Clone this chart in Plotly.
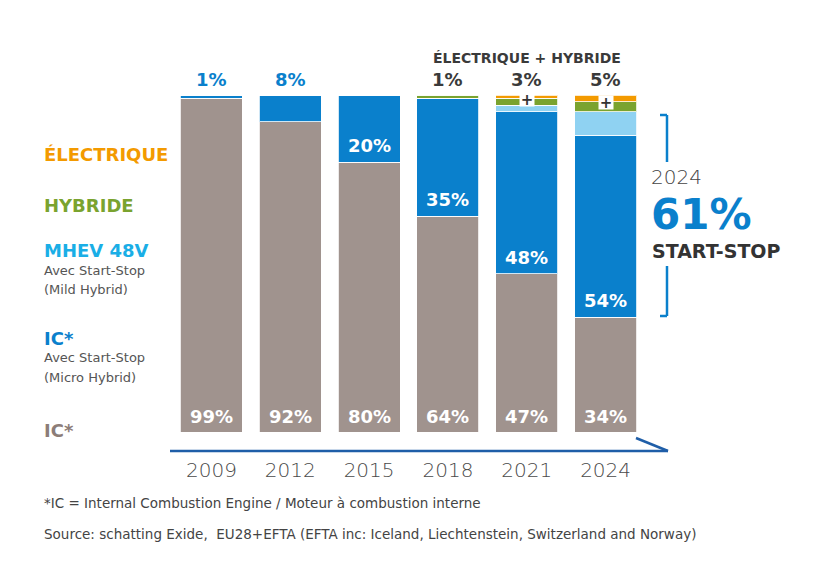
import plotly.graph_objects as go

years = ["2009", "2012", "2015", "2018", "2021", "2024"]
ic = [99, 92, 80, 64, 47, 34]
ic_start_stop = [1, 8, 20, 35, 48, 54]
mhev = [0, 0, 0, 0, 2, 7]
hybride = [0, 0, 0, 1, 2, 3]
electrique = [0, 0, 0, 0, 1, 2]
elec_hyb_labels = ["", "", "", "1%", "3%", "5%"]

xpos = list(range(len(years)))

W_FIG, H_FIG = 821, 571
L, R_EDGE, T, B = 172, 645, 95, 432
PW, PH = R_EDGE - L, B - T

def px(x):
    return (x - L) / PW

def py(y):
    return (B - y) / PH

F_BOLD = "DejaVu Sans"
C_IC = "#a0938e"
C_BLUE = "#0a80cc"
C_MHEV = "#8fd2f2"
C_HYB = "#7aa32f"
C_ELEC = "#f39a00"

fig = go.Figure()
series = [
    ("IC*", ic, C_IC),
    ("IC* Start-Stop", ic_start_stop, C_BLUE),
    ("MHEV 48V", mhev, C_MHEV),
    ("HYBRIDE", hybride, C_HYB),
    ("ÉLECTRIQUE", electrique, C_ELEC),
]
for name, vals, col in series:
    fig.add_trace(go.Bar(
        x=xpos, y=vals, name=name,
        marker=dict(color=col, line=dict(color="rgba(255,255,255,0.8)", width=1)),
        hoverinfo="skip",
    ))

ann = []
def pct(i, y, text, color, shift):
    ann.append(dict(x=i, y=y, xref="x", yref="y", text=f"<b>{text}</b>", showarrow=False,
                    yanchor="bottom", yshift=shift,
                    font=dict(family=F_BOLD, size=18, color=color)))

for i, v in enumerate(ic):
    pct(i, 0, f"{v}%", "white", 3)
for i, (base, v) in enumerate(zip(ic, ic_start_stop)):
    if i < 2:
        pct(i, 100, f"{v}%", C_BLUE, 3)
    else:
        pct(i, base, f"{v}%", "white", 4)
for i, lab in enumerate(elec_hyb_labels):
    if lab:
        pct(i, 100, lab, "#3a3a3a", 3)
for i in range(len(years)):
    if electrique[i] > 0:
        yb = ic[i] + ic_start_stop[i] + mhev[i] + hybride[i]
        ann.append(dict(x=i, y=yb, xref="x", yref="y", text="<b>+</b>", showarrow=False,
                        bgcolor="white", borderpad=0, yshift=-1, width=14, height=13,
                        font=dict(family=F_BOLD, size=15, color="#333")))
ann.append(dict(x=px(527), y=py(58), xref="paper", yref="paper", text="<b>ÉLECTRIQUE + HYBRIDE</b>",
                showarrow=False, xanchor="center", yanchor="middle",
                font=dict(family=F_BOLD, size=14, color="#3a3a3a")))

def lt(x, y, text, size, color, family=F_BOLD, weight=None):
    f = dict(family=family, size=size, color=color)
    if weight:
        f["weight"] = weight
    ann.append(dict(x=px(x), y=py(y), xref="paper", yref="paper", text=text, showarrow=False,
                    xanchor="left", yanchor="middle", font=f))

lt(42, 154, "<b>ÉLECTRIQUE</b>", 18, C_ELEC)
lt(42, 205, "<b>HYBRIDE</b>", 18, C_HYB)
lt(42, 250, "<b>MHEV 48V</b>", 18, "#1aaee6")
lt(42, 270, "Avec Start-Stop", 13, "#555")
lt(42, 289, "(Mild Hybrid)", 13, "#555")
lt(42, 338, "<b>IC*</b>", 18, C_BLUE)
lt(42, 357, "Avec Start-Stop", 13, "#555")
lt(42, 377, "(Micro Hybrid)", 13, "#555")
lt(42, 430, "<b>IC*</b>", 18, "#8c7d78")

lt(649, 177, "2024", 20, "#444", weight=200)
lt(649, 214, "<b>61%</b>", 42, C_BLUE)
lt(650, 251, "<b>START-STOP</b>", 19, "#333")

lt(42, 503, "*IC = Internal Combustion Engine / Moteur à combustion interne", 13.5, "#444")
lt(42, 534, "Source: schatting Exide,  EU28+EFTA (EFTA inc: Iceland, Liechtenstein, Switzerland and Norway)", 13.5, "#444")

shapes = []
def line(x0, y0, x1, y1, color, width):
    shapes.append(dict(type="line", xref="paper", yref="paper", x0=px(x0), y0=py(y0), x1=px(x1), y1=py(y1),
                       line=dict(color=color, width=width)))

line(170, 451, 668, 451, "#1f5ea8", 2.5)
line(636, 438, 668, 451, "#1f5ea8", 2.5)
line(667, 115, 667, 162, C_BLUE, 2.5)
line(660, 115, 667, 115, C_BLUE, 2.5)
line(667, 266, 667, 316, C_BLUE, 2.5)
line(660, 316, 667, 316, C_BLUE, 2.5)

fig.update_layout(
    barmode="stack",
    bargap=0.215,
    width=W_FIG, height=H_FIG,
    margin=dict(l=L, r=W_FIG - R_EDGE, t=T, b=H_FIG - B, pad=0),
    paper_bgcolor="white", plot_bgcolor="white",
    showlegend=False,
    annotations=ann,
    shapes=shapes,
    xaxis=dict(range=[-0.5, len(years) - 0.5], tickvals=xpos, ticktext=years,
               showgrid=False, zeroline=False, showline=False, ticks="",
               tickfont=dict(family=F_BOLD, size=20, color="#4a4a4a", weight=200),
               ticklabelstandoff=24, fixedrange=True),
    yaxis=dict(range=[0, 100], visible=False, fixedrange=True),
)

fig.write_html("out.html")
